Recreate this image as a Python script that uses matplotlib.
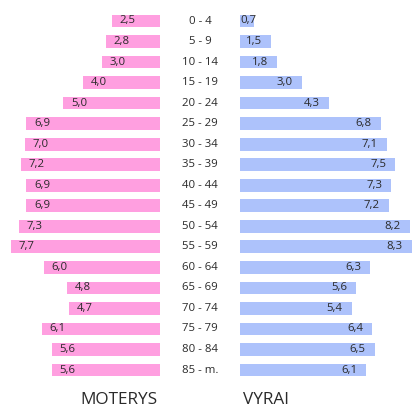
import matplotlib
matplotlib.use("Agg")
import matplotlib.pyplot as plt

age_groups = ["0 - 4", "5 - 9", "10 - 14", "15 - 19", "20 - 24", "25 - 29", "30 - 34",
              "35 - 39", "40 - 44", "45 - 49", "50 - 54", "55 - 59", "60 - 64", "65 - 69",
              "70 - 74", "75 - 79", "80 - 84", "85 - m."]
women = [2.5, 2.8, 3.0, 4.0, 5.0, 6.9, 7.0, 7.2, 6.9, 6.9, 7.3, 7.7, 6.0, 4.8, 4.7, 6.1, 5.6, 5.6]
men = [0.7, 1.5, 1.8, 3.0, 4.3, 6.8, 7.1, 7.5, 7.3, 7.2, 8.2, 8.3, 6.3, 5.6, 5.4, 6.4, 6.5, 6.1]
left_title = "MOTERYS"
right_title = "VYRAI"

plt.rcParams['font.family'] = ['Open Sans', 'DejaVu Sans']

W, H = 413, 407
fig = plt.figure(figsize=(W / 100, H / 100), dpi=100)

pink = "#FF9FE0"
blue = "#ADC2FB"
txt = "#2a2a2a"

row0 = 21.0
step = 20.53
ylim = ((H - row0) / step, -row0 / step)
n = len(age_groups)
ys = list(range(n))

axL = fig.add_axes([0, 0, 160 / W, 1])
axR = fig.add_axes([240 / W, 0, (W - 240) / W, 1])
for ax in (axL, axR):
    ax.set_ylim(*ylim)
    ax.axis("off")
axL.set_xlim(160 / 19.35, 0)
axR.set_xlim(0, (W - 240) / 20.7)

bh = 0.62
axL.barh(ys, women, height=bh, color=pink)
axR.barh(ys, men, height=bh, color=blue)

def fmt(v):
    return f"{v:.1f}".replace(".", ",")

fs = 8.2
for y, v in zip(ys, women):
    axL.annotate(fmt(v), (v, y), xytext=(5.6, 0), textcoords="offset points",
                 ha="left", va="center", fontsize=fs, color=txt)
for y, v in zip(ys, men):
    if v < 1:
        axR.annotate(fmt(v), (0, y), xytext=(0, 0), textcoords="offset points",
                     ha="left", va="center", fontsize=fs, color=txt)
    else:
        axR.annotate(fmt(v), (v, y), xytext=(-6.5, 0), textcoords="offset points",
                     ha="right", va="center", fontsize=fs, color=txt)

for i, lab in enumerate(age_groups):
    fig.text(200 / W, 1 - (row0 + step * i) / H, lab, ha="center", va="center",
             fontsize=fs, color=txt)

fig.text(119 / W, 1 - 400 / H, left_title, ha="center", va="center", fontsize=12.3, color=txt)
fig.text(243 / W, 1 - 400 / H, right_title, ha="left", va="center", fontsize=12.3, color=txt)

fig.savefig("out.png", dpi=100)
